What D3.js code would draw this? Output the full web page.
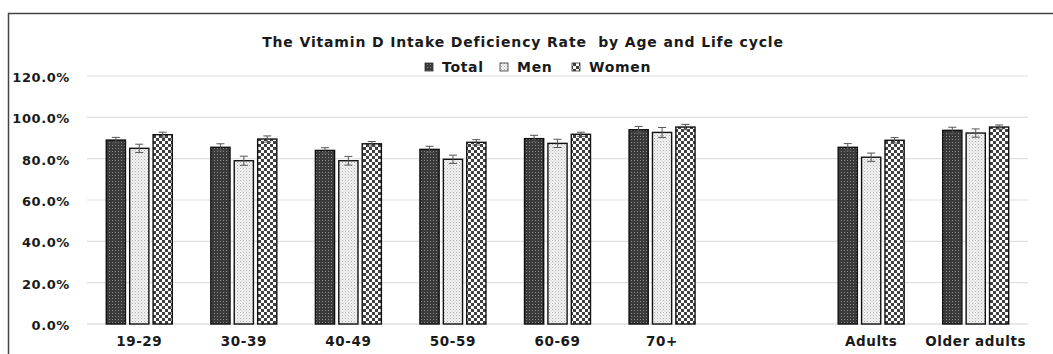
<!DOCTYPE html>
<html><head><meta charset="utf-8">
<script src="https://cdn.jsdelivr.net/npm/d3@7"></script>
<style>body{margin:0;background:#fff;}svg{display:block;} text{white-space:pre;}</style>
</head><body>
<script>
const categories = ["19-29","30-39","40-49","50-59","60-69","70+","","Adults","Older adults"];
const seriesNames = ["Total","Men","Women"];
const totalValues = [89.0,85.5,84.0,84.5,89.7,94.0,null,85.5,93.7];
const menValues   = [85.0,79.0,79.0,79.7,87.4,92.7,null,80.7,92.4];
const womenValues = [91.6,89.5,87.2,87.9,91.8,95.3,null,88.9,95.3];
const totalErr = [1.3,1.7,1.3,1.5,1.6,1.6,null,1.8,1.5];
const menErr   = [2.0,2.2,2.1,2.0,2.0,2.4,null,2.0,2.0];
const womenErr = [1.2,1.5,1.1,1.3,1.0,1.3,null,1.3,1.0];
const yTicks = [0,20,40,60,80,100,120];
const title = "The Vitamin D Intake Deficiency Rate  by Age and Life cycle";

const W=1053,H=354;
const svg=d3.select("body").append("svg").attr("width",W).attr("height",H);
const defs=svg.append("defs");
let p=defs.append("pattern").attr("id","pTotal").attr("patternUnits","userSpaceOnUse").attr("width",3).attr("height",3);
p.append("rect").attr("width",3).attr("height",3).attr("fill","#3a3a3a");
p.append("rect").attr("x",1).attr("y",1).attr("width",1).attr("height",1).attr("fill","#8a8a8a");
p=defs.append("pattern").attr("id","pMen").attr("patternUnits","userSpaceOnUse").attr("width",3).attr("height",3);
p.append("rect").attr("width",3).attr("height",3).attr("fill","#f2f2f2");
p.append("rect").attr("x",0).attr("y",0).attr("width",1).attr("height",1).attr("fill","#b0b0b0");
p.append("rect").attr("x",1.5).attr("y",1.5).attr("width",1).attr("height",1).attr("fill","#c8c8c8");
p=defs.append("pattern").attr("id","pWomen").attr("patternUnits","userSpaceOnUse").attr("width",6).attr("height",6);
p.append("rect").attr("width",6).attr("height",6).attr("fill","#ffffff");
p.append("rect").attr("width",3).attr("height",3).attr("fill","#404040");
p.append("rect").attr("x",3).attr("y",3).attr("width",3).attr("height",3).attr("fill","#404040");
const fills=["url(#pTotal)","url(#pMen)","url(#pWomen)"];

svg.append("line").attr("x1",8).attr("x2",W).attr("y1",13.5).attr("y2",13.5).attr("stroke","#444").attr("stroke-width",1.5);
svg.append("line").attr("x1",8.5).attr("x2",8.5).attr("y1",13).attr("y2",H).attr("stroke","#444").attr("stroke-width",1.5);

const x=d3.scaleBand().domain(categories).range([87,1028]);
const y=d3.scaleLinear().domain([0,120]).range([324,76]);
const font="'DejaVu Sans', sans-serif";

svg.append("g").selectAll("line").data(yTicks).join("line")
 .attr("x1",87).attr("x2",1028).attr("y1",d=>y(d)).attr("y2",d=>y(d))
 .attr("stroke",d=>d===0?"#cfcfcf":"#e0e0e0").attr("stroke-width",1.2);

const yAxis=d3.axisLeft(y).tickValues(yTicks).tickFormat(d=>d.toFixed(1)+"%").tickSize(0).tickPadding(0);
const ya=svg.append("g").attr("transform","translate(70,0)").call(yAxis);
ya.select(".domain").remove();
ya.selectAll("text").attr("font-family",font).attr("font-weight","bold").attr("font-size",13)
  .attr("letter-spacing",0.6).attr("fill","#1a1a1a").attr("dy","0.42em");

const xAxis=d3.axisBottom(x).tickSize(0).tickPadding(0);
const xa=svg.append("g").call(xAxis);
xa.select(".domain").remove();
xa.selectAll("text").attr("font-family",font).attr("font-weight","bold").attr("font-size",13.5)
  .attr("letter-spacing",0.6).attr("fill","#1a1a1a").attr("y",346).attr("dy",0);

const xs=d3.scaleBand().domain(seriesNames).range([-33,33]).paddingInner(0.18);
const vals=[totalValues,menValues,womenValues];
const errs=[totalErr,menErr,womenErr];
const data=[];
categories.forEach((c,i)=>seriesNames.forEach((s,j)=>{ if(vals[j][i]!=null) data.push({c,s,j,v:vals[j][i],e:errs[j][i]}); }));

svg.append("g").selectAll("rect").data(data).join("rect")
 .attr("x",d=>x(d.c)+x.bandwidth()/2+xs(d.s))
 .attr("width",xs.bandwidth())
 .attr("y",d=>y(d.v)).attr("height",d=>y(0)-y(d.v))
 .attr("fill",d=>fills[d.j]).attr("stroke","#111").attr("stroke-width",1.4);

const eb=svg.append("g").attr("stroke","#555").attr("stroke-width",1);
data.forEach(d=>{
  const cx=x(d.c)+x.bandwidth()/2+xs(d.s)+xs.bandwidth()/2;
  eb.append("line").attr("x1",cx).attr("x2",cx).attr("y1",y(d.v+d.e)).attr("y2",y(d.v-d.e));
  eb.append("line").attr("x1",cx-4).attr("x2",cx+4).attr("y1",y(d.v+d.e)).attr("y2",y(d.v+d.e));
  eb.append("line").attr("x1",cx-4).attr("x2",cx+4).attr("y1",y(d.v-d.e)).attr("y2",y(d.v-d.e));
});

svg.append("text").attr("x",523).attr("y",46.5).attr("text-anchor","middle")
 .attr("font-family",font).attr("font-weight","bold").attr("font-size",14).attr("letter-spacing",0.85)
 .attr("fill","#1a1a1a").text(title);

const legX=[425,500,572];
const lg=svg.append("g");
seriesNames.forEach((s,j)=>{
  lg.append("rect").attr("x",legX[j]).attr("y",63).attr("width",8).attr("height",8)
    .attr("fill",fills[j]).attr("stroke","#333").attr("stroke-width",0.8);
  lg.append("text").attr("x",legX[j]+17).attr("y",71.5).attr("font-family",font).attr("font-weight","bold")
    .attr("font-size",14).attr("letter-spacing",0.7).attr("fill","#1a1a1a").text(s);
});
</script>
</body></html>
